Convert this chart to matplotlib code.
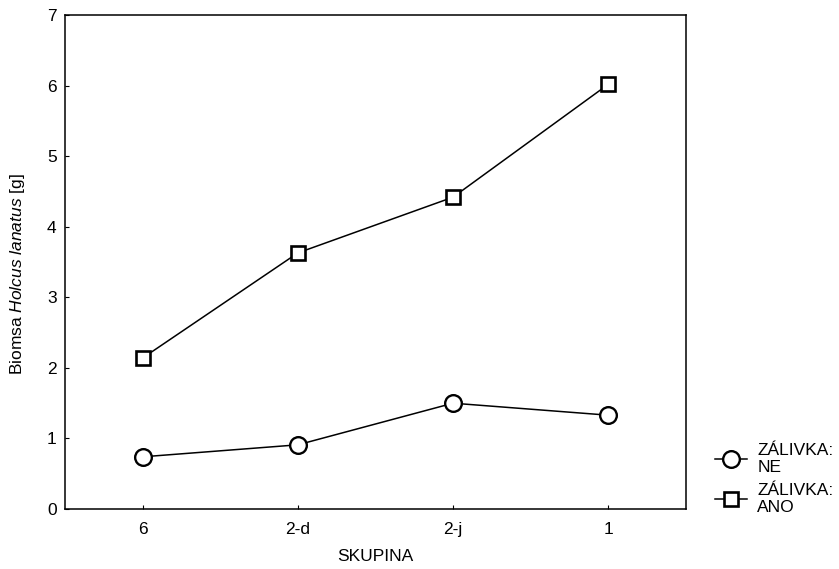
import matplotlib
matplotlib.use("Agg")
import matplotlib.pyplot as plt

plt.rcParams['font.family'] = ['Liberation Sans', 'DejaVu Sans']
plt.rcParams['mathtext.fontset'] = 'custom'
plt.rcParams['mathtext.rm'] = 'Liberation Sans'
plt.rcParams['mathtext.it'] = 'Liberation Sans:italic'

groups = ["6", "2-d", "2-j", "1"]
biomass_ne = [0.74, 0.91, 1.50, 1.33]
biomass_ano = [2.14, 3.63, 4.42, 6.02]
labels = ["ZÁLIVKA:\nNE", "ZÁLIVKA:\nANO"]

FS = 12.5

fig = plt.figure(figsize=(8.39, 5.69), dpi=100)
ax = fig.add_axes([0.0775, 0.1054, 0.740, 0.868])

x = range(len(groups))
ax.plot(x, biomass_ne, color='black', lw=1.1, marker='o', ms=12,
        mfc='white', mec='black', mew=1.7, label=labels[0])
ax.plot(x, biomass_ano, color='black', lw=1.1, marker='s', ms=10.5,
        mfc='white', mec='black', mew=1.9, label=labels[1])

ax.set_xlim(-0.5, 3.5)
ax.set_ylim(0, 7)
ax.set_xticks(list(x))
ax.set_xticklabels(groups)
ax.set_yticks(range(0, 8))
ax.tick_params(direction='in', length=3, width=0.8, labelsize=FS)
ax.tick_params(axis='y', pad=6)
ax.tick_params(axis='x', pad=9)
for s in ax.spines.values():
    s.set_linewidth(1.1)

ax.set_xlabel("SKUPINA", fontsize=FS, labelpad=9)
ax.set_ylabel("Biomsa $\\mathit{Holcus\\ lanatus}$ [g]", fontsize=FS, labelpad=12)
ax.yaxis.set_label_coords(-0.062, 0.475)

fig.legend(loc='upper left', bbox_to_anchor=(0.852, 0.222), frameon=False,
           fontsize=FS, handlelength=1.85, handletextpad=0.6,
           labelspacing=0.45, borderaxespad=0, borderpad=0)

fig.savefig("out.png", dpi=100)
